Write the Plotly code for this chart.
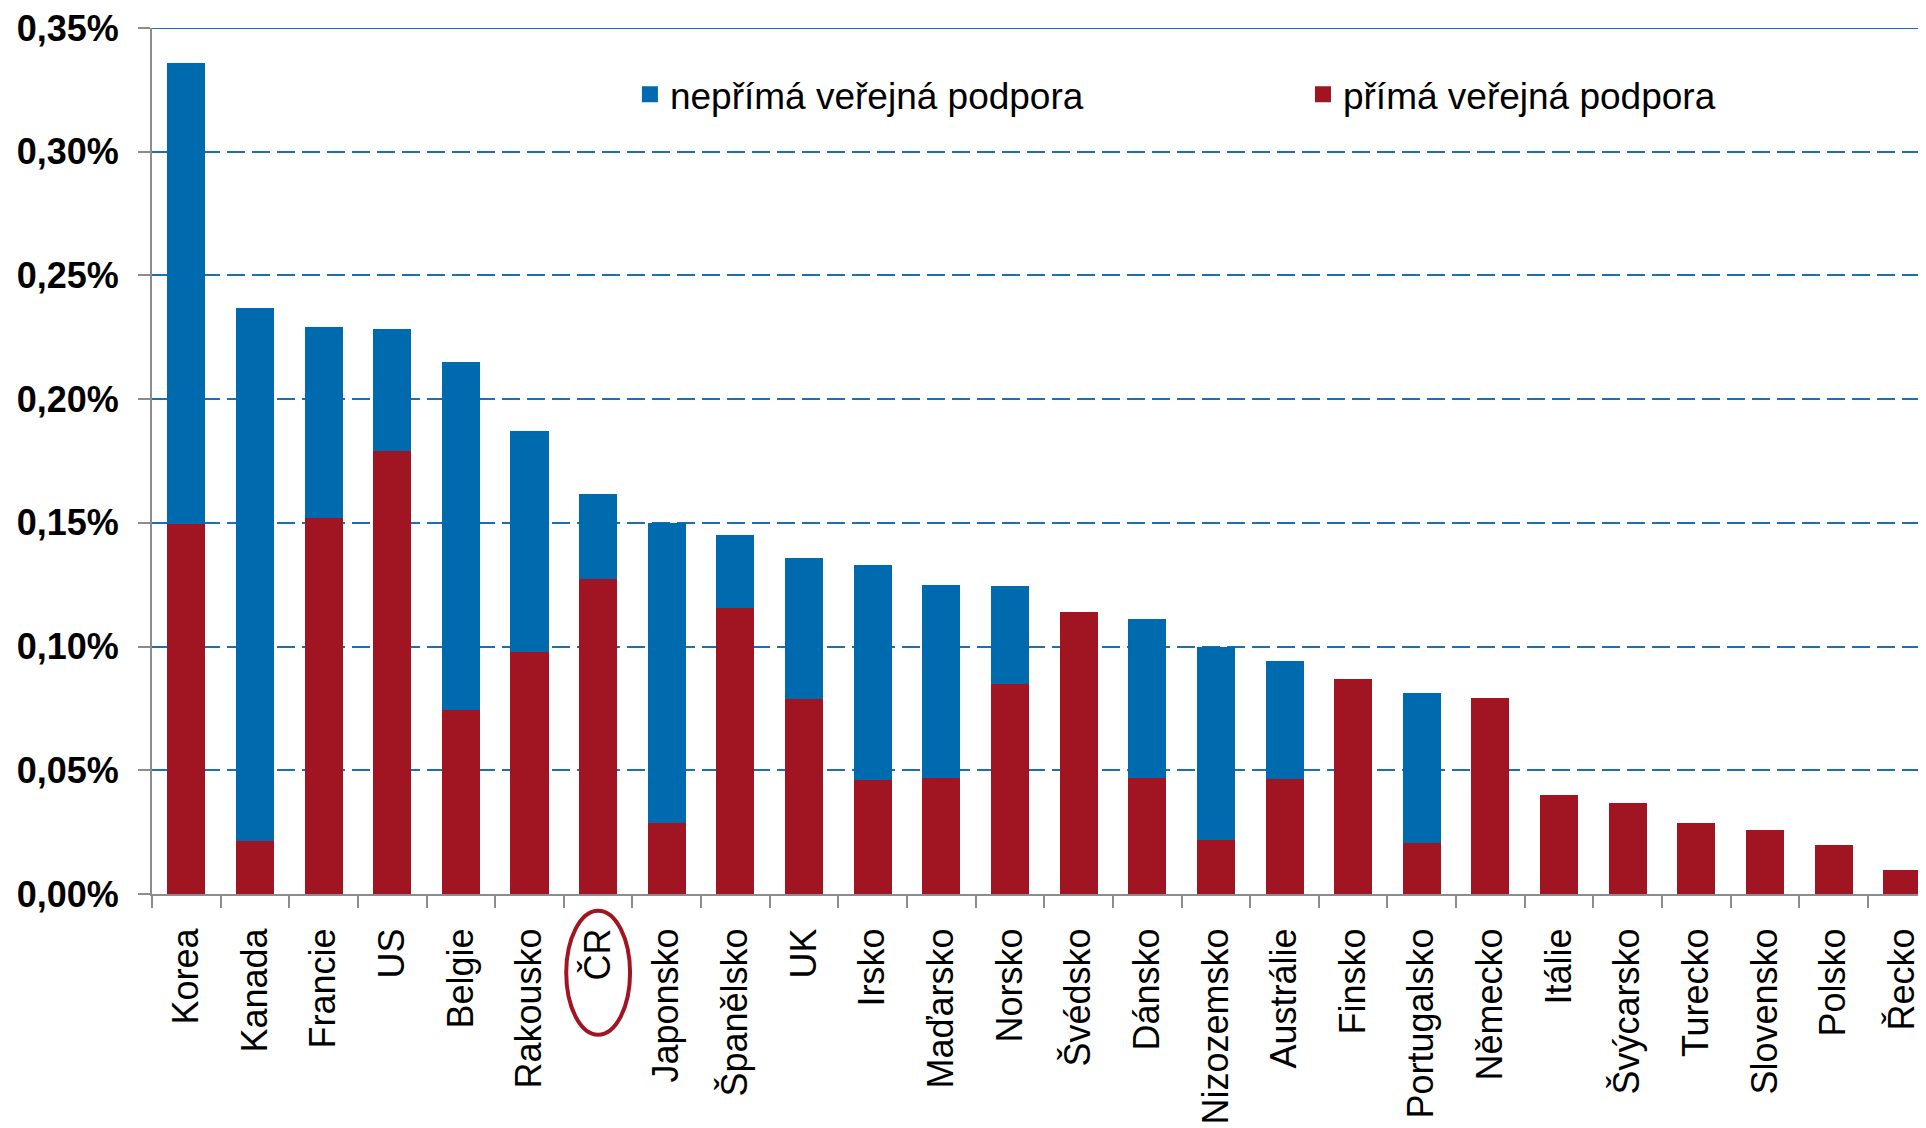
import plotly.graph_objects as go

categories = ["Korea", "Kanada", "Francie", "US", "Belgie", "Rakousko", "ČR", "Japonsko",
              "Španělsko", "UK", "Irsko", "Maďarsko", "Norsko", "Švédsko", "Dánsko",
              "Nizozemsko", "Austrálie", "Finsko", "Portugalsko", "Německo", "Itálie",
              "Švýcarsko", "Turecko", "Slovensko", "Polsko", "Řecko"]

# přímá veřejná podpora (% HDP)
direct = [0.1497, 0.0213, 0.1520, 0.1790, 0.0744, 0.0980, 0.1274, 0.0288, 0.1155, 0.0790,
          0.0460, 0.0470, 0.0850, 0.1140, 0.0470, 0.0218, 0.0466, 0.0868, 0.0208, 0.0793,
          0.0400, 0.0367, 0.0288, 0.0258, 0.0198, 0.0099]

# nepřímá veřejná podpora (% HDP)
indirect = [0.1863, 0.2157, 0.0770, 0.0495, 0.1406, 0.0890, 0.0342, 0.1212, 0.0295, 0.0570,
            0.0870, 0.0780, 0.0394, 0.0, 0.0640, 0.0782, 0.0474, 0.0, 0.0605, 0.0,
            0.0, 0.0, 0.0, 0.0, 0.0, 0.0]

tick_vals = [0, 0.05, 0.10, 0.15, 0.20, 0.25, 0.30, 0.35]
tick_text = ["0,00%", "0,05%", "0,10%", "0,15%", "0,20%", "0,25%", "0,30%", "0,35%"]

highlight = "ČR"

BLUE = "#006AAE"
RED = "#A11422"
GRID = "#1F6FB0"
AXIS = "#8C8C8C"
FONT = "Arial, Liberation Sans, sans-serif"

x_range = [-0.5, 25.346]

fig = go.Figure()
fig.add_trace(go.Bar(x=categories, y=direct, name="přímá veřejná podpora",
                     marker=dict(color=RED, line=dict(width=0)), showlegend=False))
fig.add_trace(go.Bar(x=categories, y=indirect, name="nepřímá veřejná podpora",
                     marker=dict(color=BLUE, line=dict(width=0)), showlegend=False))

# legend entries (square keys)
fig.add_trace(go.Scatter(x=[None], y=[None], mode="markers", name="nepřímá veřejná podpora",
                         marker=dict(symbol="square", size=16, color=BLUE),
                         legend="legend", showlegend=True))
fig.add_trace(go.Scatter(x=[None], y=[None], mode="markers", name="přímá veřejná podpora",
                         marker=dict(symbol="square", size=16, color=RED),
                         legend="legend2", showlegend=True))

legend_font = dict(size=37, family=FONT, color="black")
fig.update_layout(
    width=1926, height=1128,
    barmode="stack", bargap=0.446,
    plot_bgcolor="white", paper_bgcolor="white",
    margin=dict(l=144, r=8, t=20, b=242, autoexpand=False),
    font=dict(family=FONT, color="black"),
    showlegend=True,
    legend=dict(orientation="h", x=0.2694, xanchor="left", y=0.923, yanchor="middle",
                font=legend_font, bgcolor="rgba(0,0,0,0)", visible=True),
    legend2=dict(orientation="h", x=0.6488, xanchor="left", y=0.923, yanchor="middle",
                 font=legend_font, bgcolor="rgba(0,0,0,0)", visible=True),
)

fig.update_xaxes(
    range=x_range, tickson="boundaries", ticks="outside", ticklen=12, tickwidth=1.5,
    tickcolor=AXIS, showline=True, linecolor=AXIS, linewidth=2,
    tickangle=-90, tickfont=dict(size=36, family=FONT, color="black"),
    showgrid=False, ticklabelstandoff=18,
)
fig.update_yaxes(
    range=[0, 0.35], tickvals=tick_vals, ticktext=tick_text,
    ticks="outside", ticklen=12, tickwidth=1.5, tickcolor=AXIS,
    showline=True, linecolor=AXIS, linewidth=2,
    tickfont=dict(size=36, family=FONT, color="black", weight="bold"),
    showgrid=True, gridcolor=GRID, gridwidth=1.5, griddash="18px,7px",
    zeroline=False, ticklabelstandoff=12, ticklabeloverflow="allow",
)

# solid top border line at 0.35 %
fig.add_shape(type="line", xref="paper", yref="y", x0=0, x1=1, y0=0.35, y1=0.35,
              line=dict(color=GRID, width=2))

# ellipse around ČR label
idx = categories.index(highlight)
span = x_range[1] - x_range[0]
cx = (idx - x_range[0]) / span
hw = 0.465 / span
fig.add_shape(type="circle", xref="paper", yref="paper",
              x0=cx - hw, x1=cx + hw, y0=-0.1625, y1=-0.0193,
              line=dict(color=RED, width=4))

fig.write_html("out.html")
